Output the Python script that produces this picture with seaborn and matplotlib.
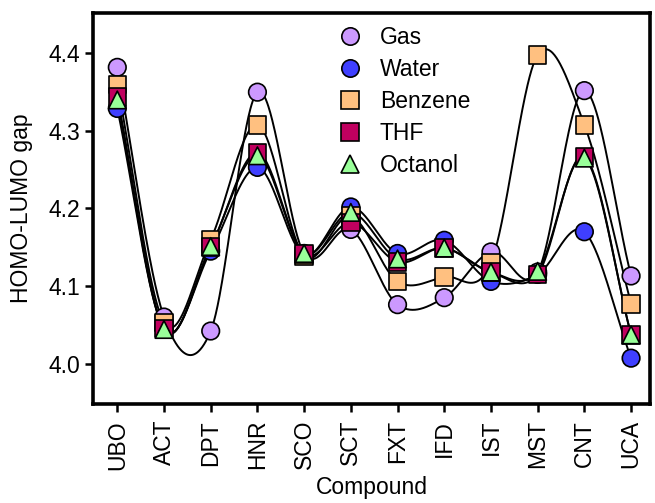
import numpy as np
import pandas as pd
import matplotlib
matplotlib.use("Agg")
import matplotlib.pyplot as plt
import seaborn as sns

compounds = ["UBO", "ACT", "DPT", "HNR", "SCO", "SCT", "FXT", "IFD", "IST", "MST", "CNT", "UCA"]
gas =     [4.382, 4.060, 4.042, 4.350, 4.142, 4.173, 4.076, 4.085, 4.144, 4.118, 4.352, 4.113]
water =   [4.329, 4.045, 4.145, 4.253, 4.140, 4.202, 4.142, 4.159, 4.106, 4.115, 4.170, 4.007]
benzene = [4.360, 4.053, 4.160, 4.308, 4.139, 4.190, 4.106, 4.112, 4.130, 4.398, 4.308, 4.077]
thf =     [4.344, 4.045, 4.150, 4.272, 4.141, 4.182, 4.131, 4.149, 4.118, 4.115, 4.267, 4.037]
octanol = [4.340, 4.044, 4.151, 4.268, 4.142, 4.195, 4.135, 4.149, 4.118, 4.119, 4.265, 4.037]
series_names = ["Gas", "Water", "Benzene", "THF", "Octanol"]
series_vals = [gas, water, benzene, thf, octanol]
colors = {"Gas": "#cc99ff", "Water": "#3f3fff", "Benzene": "#ffc080", "THF": "#c0005f", "Octanol": "#99ff99"}
markers = {"Gas": "o", "Water": "o", "Benzene": "s", "THF": "s", "Octanol": "^"}


def catmull_rom(x, y, xs):
    x = np.asarray(x, float); y = np.asarray(y, float)
    n = len(x)
    m = np.zeros(n)
    m[1:-1] = (y[2:] - y[:-2]) / (x[2:] - x[:-2])
    m[0] = (y[1] - y[0]) / (x[1] - x[0])
    m[-1] = (y[-1] - y[-2]) / (x[-1] - x[-2])
    idx = np.clip(np.searchsorted(x, xs) - 1, 0, n - 2)
    h = x[idx + 1] - x[idx]
    t = (xs - x[idx]) / h
    h00 = 2 * t**3 - 3 * t**2 + 1
    h10 = t**3 - 2 * t**2 + t
    h01 = -2 * t**3 + 3 * t**2
    h11 = t**3 - t**2
    return h00 * y[idx] + h10 * h * m[idx] + h01 * y[idx + 1] + h11 * h * m[idx + 1]


xpos = np.arange(len(compounds))
xs = np.linspace(0, len(compounds) - 1, 800)
pts = pd.concat([pd.DataFrame({"x": xpos, "y": v, "Solvent": n}) for n, v in zip(series_names, series_vals)])
curves = pd.concat([pd.DataFrame({"x": xs, "y": catmull_rom(xpos, v, xs), "Solvent": n})
                    for n, v in zip(series_names, series_vals)])

sns.set_style("ticks")
plt.rcParams["font.family"] = ["Liberation Sans", "DejaVu Sans"]
plt.rcParams["text.color"] = "black"
plt.rcParams["axes.labelcolor"] = "black"

FS = 16.5
fig = plt.figure(figsize=(6.55, 5.03), dpi=100)
ax = fig.add_axes([0.142, 0.197, 0.850, 0.777])

sns.lineplot(data=curves, x="x", y="y", units="Solvent", estimator=None, color="black",
             linewidth=1.4, ax=ax, legend=False, sort=False)
sns.scatterplot(data=pts, x="x", y="y", hue="Solvent", style="Solvent", palette=colors,
                markers=markers, hue_order=series_names, style_order=series_names,
                s=160, edgecolor="black", linewidth=1.2, ax=ax, zorder=3)

ax.set_xlim(-0.52, 11.4)
ax.set_ylim(3.948, 4.452)
ax.set_xticks(xpos)
ax.set_xticklabels(compounds, rotation=90, fontsize=FS)
ax.set_yticks([4.0, 4.1, 4.2, 4.3, 4.4])
ax.set_yticklabels(["4.0", "4.1", "4.2", "4.3", "4.4"], fontsize=FS)
ax.set_xlabel("Compound", fontsize=FS, labelpad=5)
ax.set_ylabel("HOMO-LUMO gap", fontsize=FS, labelpad=11)
for sp in ax.spines.values():
    sp.set_linewidth(2.6)
    sp.set_color("black")
    sp.set_visible(True)
ax.tick_params(axis="both", direction="out", length=6, width=1.8, pad=3, colors="black", labelcolor="black")
ax.tick_params(axis="x", pad=5.5)

leg = ax.legend(loc="upper left", bbox_to_anchor=(0.398, 1.0), frameon=False, fontsize=FS,
                labelspacing=0.4, handletextpad=0.3, borderaxespad=0.15)
for h in leg.legend_handles:
    try:
        h.set_markersize(12.5); h.set_markeredgecolor("black")
    except Exception:
        pass
for t in leg.get_texts():
    t.set_color("black")

fig.savefig("out.png", dpi=100)
